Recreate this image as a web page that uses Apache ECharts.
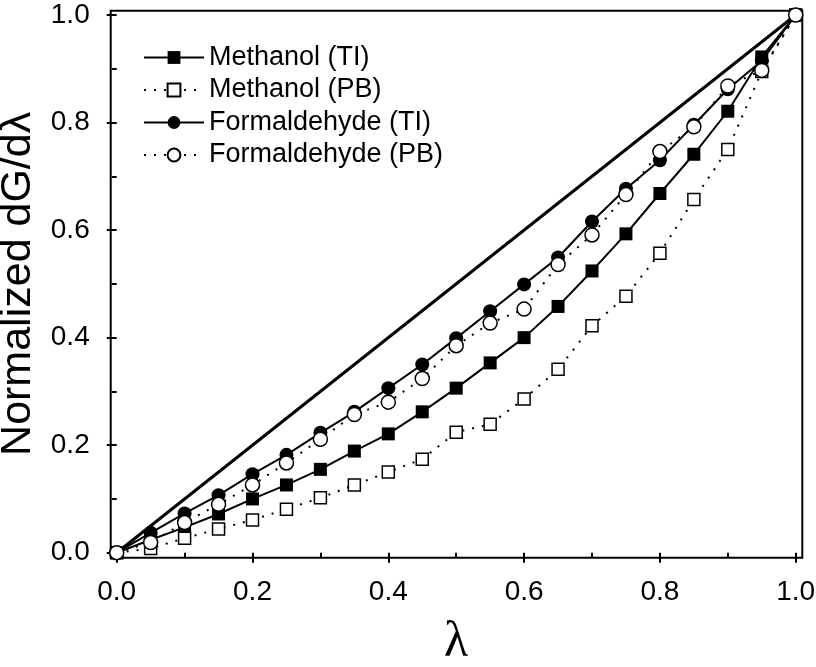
<!DOCTYPE html>
<html>
<head>
<meta charset="utf-8">
<script src="https://cdn.jsdelivr.net/npm/echarts@6/dist/echarts.min.js"></script>
<style>
  html, body { margin: 0; padding: 0; background: #fff; }
  #chart { width: 816px; height: 667px; }
</style>
</head>
<body>
<div id="chart"></div>
<script>
// ---- data ----
const lambda = [0, 0.05, 0.1, 0.15, 0.2, 0.25, 0.3, 0.35, 0.4, 0.45, 0.5,
                0.55, 0.6, 0.65, 0.7, 0.75, 0.8, 0.85, 0.9, 0.95, 1.0];
const methanolTI = [0, 0.024, 0.047, 0.072, 0.100, 0.126, 0.155, 0.189, 0.221, 0.262, 0.306,
                    0.353, 0.400, 0.458, 0.524, 0.593, 0.668, 0.741, 0.821, 0.922, 1.0];
const methanolPB = [0, 0.008, 0.027, 0.044, 0.061, 0.081, 0.102, 0.126, 0.150, 0.174, 0.224,
                    0.239, 0.286, 0.341, 0.422, 0.477, 0.557, 0.657, 0.750, 0.895, 1.0];
const formaldehydeTI = [0, 0.037, 0.073, 0.107, 0.146, 0.182, 0.223, 0.262, 0.306, 0.350, 0.399,
                        0.449, 0.499, 0.549, 0.616, 0.677, 0.730, 0.796, 0.862, 0.915, 1.0];
const formaldehydePB = [0, 0.019, 0.056, 0.090, 0.126, 0.167, 0.211, 0.257, 0.280, 0.324, 0.385,
                        0.427, 0.453, 0.536, 0.591, 0.666, 0.746, 0.792, 0.868, 0.897, 1.0];
const diagX = [0, 1];
const diagY = [0, 1];
const seriesNames = ['Methanol (TI)', 'Methanol (PB)', 'Formaldehyde (TI)', 'Formaldehyde (PB)'];
const xTicks = [0, 0.2, 0.4, 0.6, 0.8, 1.0];
const yTicks = [0, 0.2, 0.4, 0.6, 0.8, 1.0];

const pairs = (xs, ys) => xs.map((x, i) => [x, ys[i]]);
const FONT = 'Liberation Sans, Arial, sans-serif';
const dotted = { color: '#000', width: 2, type: [2, 8], cap: 'butt' };
const solid = { color: '#000', width: 2 };

const chart = echarts.init(document.getElementById('chart'), null, { renderer: 'canvas' });
const option = {
  backgroundColor: '#fff',
  animation: false,
  grid: [
    { left: 116.7, right: 20.3, top: 15, bottom: 114.3, show: false,
      containLabel: false, outerBoundsMode: 'none' },
    { left: 110.7, right: 13.7, top: 10.7, bottom: 109.3, show: true,
      containLabel: false, outerBoundsMode: 'none',
      borderColor: '#000', borderWidth: 2, backgroundColor: 'transparent', z: 1 }
  ],
  xAxis: [
    {
      type: 'value', gridIndex: 0, min: xTicks[0], max: xTicks[xTicks.length - 1], interval: 0.2,
      offset: 5,
      axisLine: { show: false },
      axisTick: { show: true, inside: false, length: 10, lineStyle: { color: '#000', width: 2 } },
      minorTick: { show: true, splitNumber: 2, length: 5, lineStyle: { color: '#000', width: 2 } },
      splitLine: { show: false },
      axisLabel: { color: '#000', fontFamily: FONT, fontSize: 28, margin: 21,
                   formatter: v => v.toFixed(1) },
      name: 'λ', nameLocation: 'middle', nameGap: 60,
      nameTextStyle: { color: '#000', fontFamily: 'Liberation Serif, Times New Roman, serif', fontSize: 50 }
    },
    { type: 'value', gridIndex: 1, show: false, min: 0, max: 1 }
  ],
  yAxis: [
    {
      type: 'value', gridIndex: 0, min: yTicks[0], max: yTicks[yTicks.length - 1], interval: 0.2,
      offset: 6,
      axisLine: { show: false },
      axisTick: { show: true, inside: false, length: 10, lineStyle: { color: '#000', width: 2 } },
      minorTick: { show: true, splitNumber: 2, length: 5, lineStyle: { color: '#000', width: 2 } },
      splitLine: { show: false },
      axisLabel: { color: '#000', fontFamily: FONT, fontSize: 28, margin: 21,
                   formatter: v => v.toFixed(1) },
      name: 'Normalized dG/dλ', nameLocation: 'middle', nameGap: 66, nameRotate: 90,
      nameTextStyle: { color: '#000', fontFamily: FONT, fontSize: 43 }
    },
    { type: 'value', gridIndex: 1, show: false, min: 0, max: 1 }
  ],
  legend: {
    orient: 'vertical', left: 143, top: 44,
    itemWidth: 60, itemHeight: 16, itemGap: 5.5,
    data: seriesNames,
    textStyle: { color: '#000', fontFamily: FONT, fontSize: 27, lineHeight: 27, padding: [0, 0, 0, 0] },
    padding: 0
  },
  series: [
    {
      type: 'line', name: 'diagonal', data: pairs(diagX, diagY), showSymbol: false, symbol: 'none',
      lineStyle: { color: '#000', width: 3 }, clip: false, z: 2, silent: true
    },
    {
      type: 'line', name: seriesNames[0], data: pairs(lambda, methanolTI),
      symbol: 'rect', symbolSize: 13, showAllSymbol: true,
      itemStyle: { color: '#000' }, lineStyle: solid, clip: false, z: 3
    },
    {
      type: 'line', name: seriesNames[1], data: pairs(lambda, methanolPB),
      symbol: 'rect', symbolSize: 12, showAllSymbol: true,
      itemStyle: { color: '#fff', borderColor: '#000', borderWidth: 1.5 }, lineStyle: dotted, clip: false, z: 4
    },
    {
      type: 'line', name: seriesNames[2], data: pairs(lambda, formaldehydeTI),
      symbol: 'circle', symbolSize: 14, showAllSymbol: true,
      itemStyle: { color: '#000' }, lineStyle: solid, clip: false, z: 5
    },
    {
      type: 'line', name: seriesNames[3], data: pairs(lambda, formaldehydePB),
      symbol: 'circle', symbolSize: 14, showAllSymbol: true,
      itemStyle: { color: '#fff', borderColor: '#000', borderWidth: 1.5 }, lineStyle: dotted, clip: false, z: 6
    }
  ]
};
chart.setOption(option);
</script>
</body>
</html>
